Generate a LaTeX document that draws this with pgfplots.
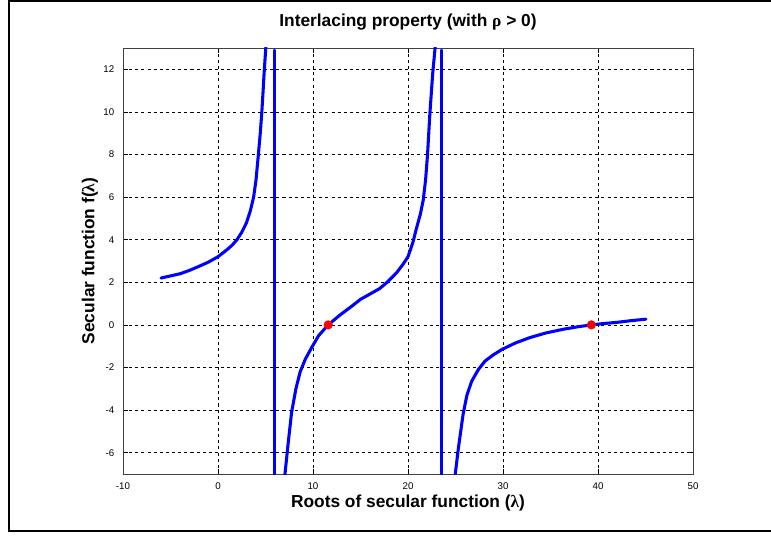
\documentclass[border=0pt]{standalone}
\usepackage{fontspec}
\setmainfont{Liberation Sans}
\newfontfamily\grk{Liberation Serif}
\usepackage{pgfplots}
\pgfplotsset{compat=1.18}
\begin{document}
\begin{tikzpicture}[x=0.75pt,y=0.75pt]
% page = 771 x 536 px
\path[use as bounding box] (0,0) rectangle (771,536);
% outer figure frame
\draw[line width=1.6pt] (771,535) -- (9,535) -- (9,5) -- (771,5);
\begin{axis}[
    at={(123pt*0.75,62pt*0.75)}, anchor=south west,
    scale only axis,
    width=427.5pt, height=319.5pt,
    xmin=-10, xmax=50,
    ymin=-7, ymax=13,
    xtick={-10,0,...,50},
    ytick={-6,-4,...,12},
    tick align=inside,
    major tick length=3.5pt,
    tick style={black, line width=0.5pt},
    axis line style={black!75, line width=0.7pt},
    grid=major,
    major grid style={black, line width=0.55pt, dash pattern=on 2.3pt off 2.3pt},
    ticklabel style={font=\fontsize{7.3}{8}\selectfont},
    /pgf/number format/assume math mode=true,
    xticklabel style={yshift=-3pt},
    yticklabel style={xshift=-3pt},
    title={\bfseries Interlacing property (with {\grk ρ} > 0)},
    title style={font=\fontsize{13}{15}\selectfont, at={(axis description cs:0.5,1.042)}, anchor=center},
    xlabel={\bfseries Roots of secular function ({\grk λ})},
    xlabel style={font=\fontsize{13}{15}\selectfont, at={(axis description cs:0.5,-0.068)}, anchor=center},
    ylabel={\bfseries Secular function f({\grk λ})},
    ylabel style={font=\fontsize{13}{15}\selectfont, at={(axis description cs:-0.058,0.5)}, anchor=center},
    clip=true,
    curve/.style={color=blue, line width=2.3pt, line cap=round, line join=round, mark=none},
]
% branch left of the first pole
\addplot[curve] coordinates {
    (-6.0,2.20) (-5,2.30) (-4,2.40) (-3,2.56) (-2,2.75) (-1,2.95) (0,3.20)
    (1,3.55) (1.5,3.75) (2,4.0) (2.5,4.35) (3,4.8) (3.4,5.35) (3.75,6.0)
    (4.0,6.8) (4.25,8.0) (4.45,9.0) (4.6,9.9) (4.75,11.0) (4.85,11.8)
    (5.0,12.8) (5.1,13.5)
};
% jump across the first pole
\addplot[curve] coordinates {(5.9,12.9) (5.9,-7.3)};
% branch between the poles
\addplot[curve] coordinates {
    (7.0,-7.3) (7.05,-7.0) (7.4,-5.5) (7.75,-4.1) (8.2,-3.0) (8.65,-2.2)
    (9.2,-1.6) (9.85,-1.07) (10.6,-0.5) (11.6,0) (12.8,0.45) (14.0,0.85)
    (15.0,1.2) (16.0,1.45) (17.0,1.7) (17.8,2.0) (18.8,2.45) (19.5,2.86)
    (20.0,3.2) (20.5,3.85) (20.9,4.55) (21.3,5.2) (21.6,5.85) (21.85,6.8)
    (22.05,7.95) (22.3,9.9) (22.6,11.8) (22.85,13.0) (22.95,13.6)
};
% jump across the second pole
\addplot[curve] coordinates {(23.55,12.9) (23.55,-7.3)};
% branch right of the second pole
\addplot[curve] coordinates {
    (24.9,-7.3) (24.95,-7.1) (25.3,-5.8) (25.8,-4.2) (26.2,-3.3) (26.7,-2.65)
    (27.4,-2.1) (28.1,-1.7) (29.0,-1.4) (29.9,-1.15) (31.3,-0.85) (32.8,-0.6)
    (34.5,-0.38) (36.4,-0.2) (38.0,-0.08) (39.3,0) (40.5,0.06) (42.0,0.12)
    (43.5,0.2) (45.05,0.27)
};
% roots
\addplot[only marks, mark=*, mark size=3.2pt, color=red, fill=red] coordinates {(11.6,0) (39.3,0)};
\end{axis}
\end{tikzpicture}
\end{document}
